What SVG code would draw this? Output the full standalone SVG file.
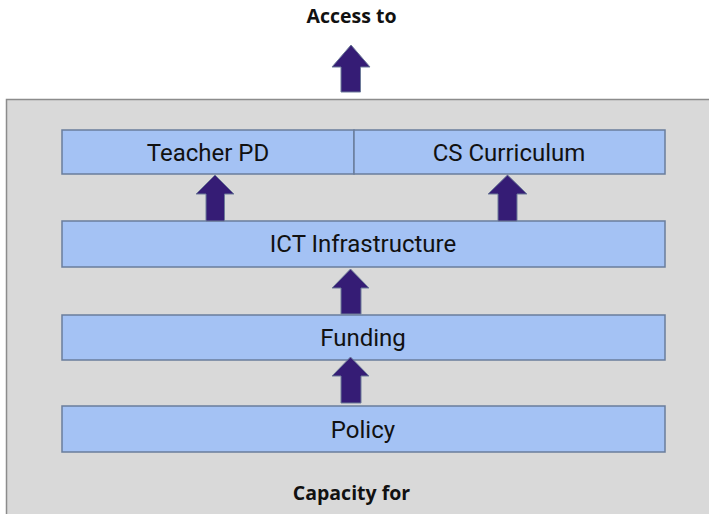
<svg xmlns="http://www.w3.org/2000/svg" width="709" height="514" viewBox="0 0 709 514">
<defs>
<style>
.box{fill:#a4c2f4;stroke:#6a7d9c;stroke-width:1.5}
.lbl{font-family:Roboto,"Liberation Sans",sans-serif;font-size:24px;fill:#111;text-anchor:middle}
.title{font-family:"Open Sans","Liberation Sans",sans-serif;font-weight:bold;font-size:19.5px;fill:#111;text-anchor:middle}
.arr{fill:#351c75;stroke:#6d7a99;stroke-width:1}
</style>
</defs>
<rect width="709" height="514" fill="#ffffff"/>
<rect id="panel" x="6.5" y="99.5" width="710" height="420" fill="#d9d9d9" stroke="#8c8c8c" stroke-width="1.5"/>
<text class="title" x="351.5" y="23">Access to</text>
<text class="title" x="351.5" y="500">Capacity for</text>
<g id="teacher-pd"><rect class="box" x="62" y="130" width="292" height="44"/><text class="lbl" x="208" y="161">Teacher PD</text></g>
<g id="cs-curriculum"><rect class="box" x="354" y="130" width="311" height="44"/><text class="lbl" x="509" y="161">CS Curriculum</text></g>
<g id="ict"><rect class="box" x="62" y="221" width="603" height="46"/><text class="lbl" x="363" y="252">ICT Infrastructure</text></g>
<g id="funding"><rect class="box" x="62" y="315" width="603" height="45"/><text class="lbl" x="363" y="346">Funding</text></g>
<g id="policy"><rect class="box" x="62" y="406" width="603" height="46"/><text class="lbl" x="363" y="438">Policy</text></g>
<g id="connectors">
<path class="arr" d="M351 45 L370 67 L360.5 67 L360.5 92 L341 92 L341 67 L332 67 Z"/>
<path class="arr" d="M215 175 L234 194 L224.5 194 L224.5 221 L206 221 L206 194 L196 194 Z"/>
<path class="arr" d="M507.5 175 L527 194 L517 194 L517 221 L498 221 L498 194 L488 194 Z"/>
<path class="arr" d="M350.5 269 L369 288 L361 288 L361 314 L341 314 L341 288 L332 288 Z"/>
<path class="arr" d="M350.5 357 L369 376 L361 376 L361 403 L341 403 L341 376 L332 376 Z"/>
</g>
</svg>
